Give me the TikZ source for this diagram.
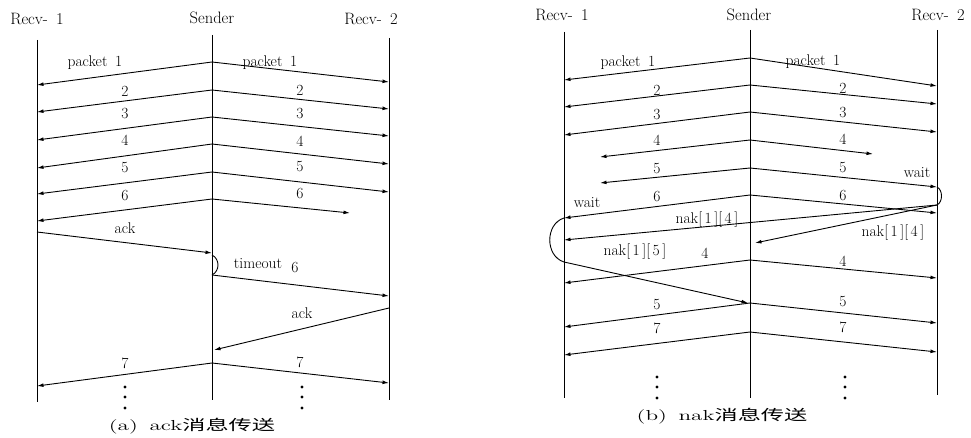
\documentclass[tikz,border=0pt]{standalone}
\usepackage{fontspec}
\usepackage{graphicx}
\newfontfamily\cjk{Noto Sans CJK SC}
\usetikzlibrary{arrows.meta}
\begin{document}
\begin{tikzpicture}[x=1pt,y=-1pt,
  life/.style={line width=0.9pt},
  msg/.style={line width=0.9pt,-{Latex[length=6.5pt,width=3.8pt]}},
  plain/.style={line width=0.9pt},
  lbl/.style={font=\fontsize{15.5}{17}\selectfont, inner sep=1pt},
  hdr/.style={font=\fontsize{16.5}{18}\selectfont, inner sep=1pt},
  captext/.style={font=\fontsize{14.5}{16}\selectfont, inner sep=1pt},
  dotc/.style={circle,fill,inner sep=0pt,minimum size=3.2pt}]
\useasboundingbox (0,0) rectangle (971,438);

% ---------------- (a) ----------------
\node[hdr] (aH1) at (37,19) {Recv-\enspace1};
\node[hdr] (aH2) at (212,18) {Sender};
\node[hdr] (aH3) at (371,19) {Recv-\enspace2};
\coordinate (aLt) at (37,40);  \coordinate (aLb) at (37,402);
\coordinate (aSt) at (212,35); \coordinate (aSb) at (212,400);
\coordinate (aRt) at (389,38); \coordinate (aRb) at (389,400);
\draw[life] (aLt) -- (aLb);
\draw[life] (aSt) -- (aSb);
\draw[life] (aRt) -- (aRb);

\foreach \i/\s/\l/\r in {1/62/85/82, 2/90/112/109, 3/117/140/136, 4/144/168/164, 5/172/194/192, 7/363/386/383} {
  \coordinate (aS\i) at (212,\s);
  \coordinate (aL\i) at (37,\l);
  \coordinate (aR\i) at (389,\r);
  \draw[msg] (aS\i) -- (aL\i);
  \draw[msg] (aS\i) -- (aR\i);
}
\coordinate (aS6) at (212,199); \coordinate (aL6) at (37,221); \coordinate (aR6) at (350,213);
\draw[msg] (aS6) -- (aL6);
\draw[msg] (aS6) -- (aR6);
\coordinate (aAck1) at (37,232); \coordinate (aAck1e) at (212,253);
\draw[msg] (aAck1) -- (aAck1e);
\coordinate (aT1) at (212,255); \coordinate (aT2) at (212,275);
\draw[plain] (aT1) .. controls (220,259) and (220,271) .. (aT2);
\coordinate (aR6b) at (389,296);
\draw[msg] (aT2) -- (aR6b);
\coordinate (aAck2) at (389,308); \coordinate (aAck2e) at (214,350);
\draw[msg] (aAck2) -- (aAck2e);

\node[lbl] (aP1l) at (95,63) {packet\enspace1};
\node[lbl] (aP1r) at (270,63) {packet\enspace1};
\foreach \n/\yl/\yr in {2/91/90, 3/114/114, 4/140/141, 5/168/167, 6/196/194, 7/363/362} {
  \node[lbl] (aN\n l) at (125,\yl) {\n};
  \node[lbl] (aN\n r) at (300,\yr) {\n};
}
\node[lbl] (aAckL) at (125,228) {ack};
\node[lbl] (aTo) at (258,264) {timeout};
\node[lbl] (aSix) at (295,268) {6};
\node[lbl] (aAckR) at (302,313) {ack};
\foreach \y [count=\k] in {387,397,408} {
  \node[dotc] (aDl\k) at (125,\y) {};
  \node[dotc] (aDr\k) at (302,\y) {};
}
\node[captext] (aCap) at (192,426) {\scalebox{1.6}[1]{(a)\enspace ack{\cjk 消息传送}}};

% ---------------- (b) ----------------
\node[hdr] (bH1) at (562,15) {Recv-\enspace1};
\node[hdr] (bH2) at (749,15) {Sender};
\node[hdr] (bH3) at (938,15) {Recv-\enspace2};
\coordinate (bLt) at (564,32);  \coordinate (bLb) at (564,398);
\coordinate (bSt) at (750,30);  \coordinate (bSb) at (750,398);
\coordinate (bRt) at (937,30);  \coordinate (bRb) at (937,395);
\draw[life] (bLt) -- (bLb);
\draw[life] (bSt) -- (bSb);
\draw[life] (bRt) -- (bRb);

\foreach \i/\s/\l/\r in {1/58/80/86, 2/85/107/104, 3/112/135/132, 4r/260/283/278, 5r/303/327/323, 7/332/355/352} {
  \coordinate (bS\i) at (750,\s);
  \coordinate (bL\i) at (564,\l);
  \coordinate (bR\i) at (937,\r);
  \draw[msg] (bS\i) -- (bL\i);
  \draw[msg] (bS\i) -- (bR\i);
}
\coordinate (bS4) at (750,140); \coordinate (bL4) at (600,157); \coordinate (bR4) at (873,154);
\draw[msg] (bS4) -- (bL4); \draw[msg] (bS4) -- (bR4);
\coordinate (bS5) at (750,168); \coordinate (bL5) at (600,183); \coordinate (bR5) at (937,187);
\draw[msg] (bS5) -- (bL5); \draw[msg] (bS5) -- (bR5);
\coordinate (bS6) at (750,195); \coordinate (bL6) at (564,218); \coordinate (bR6) at (937,213);
\draw[msg] (bS6) -- (bL6); \draw[msg] (bS6) -- (bR6);
% right wait
\coordinate (bW2) at (937,205);
\draw[plain] (bR5) .. controls (943,190) and (943,202) .. (bW2);
\coordinate (bNakS) at (755,243); \coordinate (bNakL) at (564,240);
\draw[msg] (bW2) -- (bNakS);
\draw[msg] (bW2) -- (bNakL);
% left wait
\coordinate (bW1) at (564,262);
\draw[plain] (bL6) .. controls (545,224) and (545,256) .. (bW1);
\coordinate (bNak5S) at (748,303);
\draw[msg] (bW1) -- (bNak5S);

\node[lbl] (bP1l) at (628,63) {packet\enspace1};
\node[lbl] (bP1r) at (813,62) {packet\enspace1};
\foreach \n/\yl/\yr [count=\k] in {2/90/88, 3/115/113, 4/140/139, 5/169/168, 6/197/196, 5/305/302, 7/328/327} {
  \node[lbl] (bN\k l) at (657,\yl) {\n};
  \node[lbl] (bN\k r) at (843,\yr) {\n};
}
\node[lbl] (bWaitR) at (917,173) {wait};
\node[lbl] (bWaitL) at (587,203) {wait};
\node[lbl] (bNak1) at (707,220) {nak[\,1\,][\,4\,]};
\node[lbl] (bNak2) at (893,233) {nak[\,1\,][\,4\,]};
\node[lbl] (bNak3) at (635,252) {nak[\,1\,][\,5\,]};
\node[lbl] (bF1) at (705,253) {4};
\node[lbl] (bF2) at (843,261) {4};
\foreach \y [count=\k] in {377,387,398} {
  \node[dotc] (bDl\k) at (657,\y) {};
  \node[dotc] (bDr\k) at (845,\y) {};
}
\node[captext] (bCap) at (722,416) {\scalebox{1.6}[1]{(b)\enspace nak{\cjk 消息传送}}};
\end{tikzpicture}
\end{document}
